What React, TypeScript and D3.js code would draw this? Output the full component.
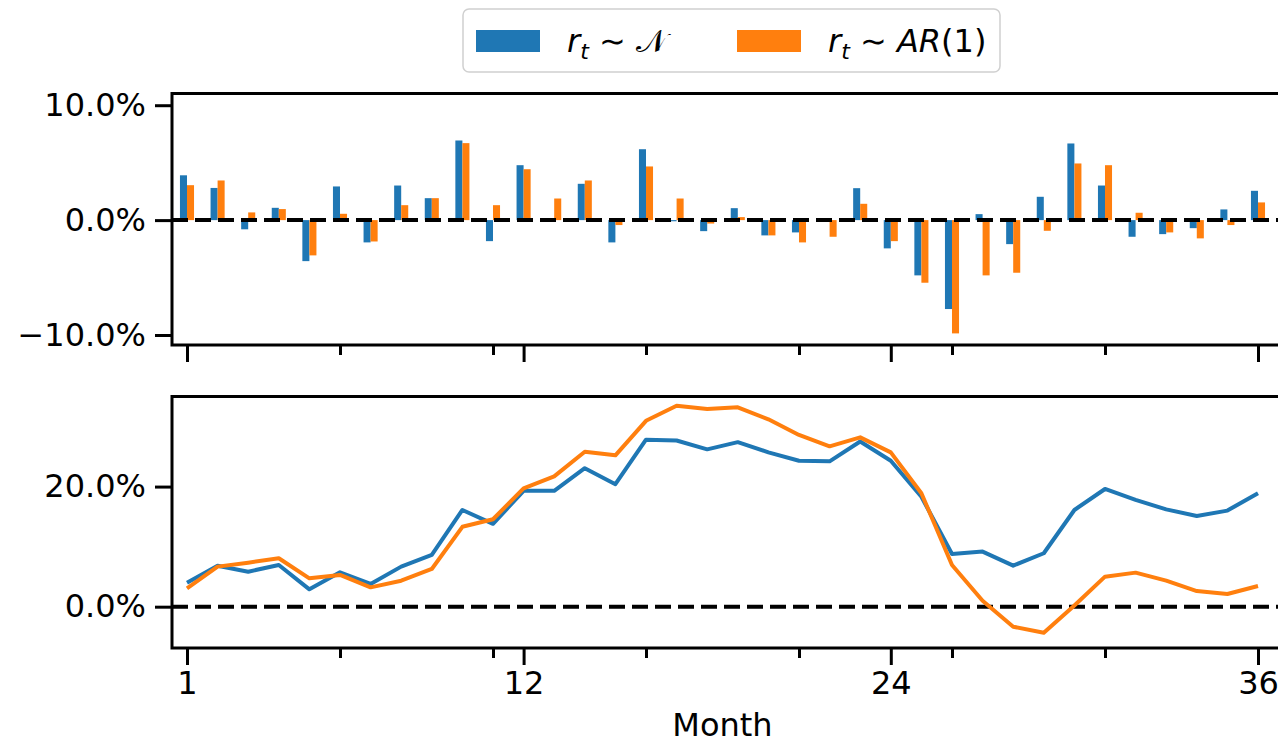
import { useEffect, useRef } from "react";
import * as d3 from "d3";

const BLUE = "#1f77b4";
const ORANGE = "#ff7f0e";
const FONT = "DejaVu Sans, sans-serif";

// months on the x axis
const MONTHS = d3.range(1, 37);
const MAJOR_TICKS = [1, 12, 24, 36];
const MINOR_TICKS = [6, 11, 16, 21, 26, 31];

// monthly returns (%) – top panel
const RET_NORMAL = [
    3.9, 2.8, -0.8, 1.07, -3.57, 2.93, -1.94, 3.01, 1.91, 6.93, -1.83, 4.78,
    0.1, 3.16, -1.94, 6.17, -0.1, -0.96, 1.04, -1.33, -1.07, -0.1, 2.78, -2.46,
    -4.81, -7.74, 0.52, -2.09, 2.03, 6.67, 3.01, -1.45, -1.22, -0.7, 0.93, 2.55,
];
const RET_AR = [
    3.04, 3.45, 0.67, 0.96, -3.07, 0.55, -1.86, 1.3, 1.91, 6.7, 1.3, 4.43,
    1.88, 3.45, -0.43, 4.67, 1.88, -0.3, 0.26, -1.33, -1.94, -1.45, 1.42, -1.83,
    -5.45, -9.86, -4.81, -4.58, -0.93, 4.93, 4.78, 0.64, -1.07, -1.59, -0.43, 1.54,
];

// cumulative returns (%) – bottom panel
const CUM_NORMAL = [
    4.0, 6.83, 5.83, 6.94, 2.89, 5.72, 3.78, 6.67, 8.61, 16.1, 13.8, 19.3,
    19.3, 23.06, 20.4, 27.8, 27.67, 26.2, 27.4, 25.7, 24.3, 24.2, 27.5, 24.3,
    18.3, 8.78, 9.17, 6.83, 8.9, 16.1, 19.6, 17.8, 16.2, 15.1, 16.0, 18.9,
];
const CUM_AR = [
    3.06, 6.67, 7.33, 8.06, 4.72, 5.28, 3.22, 4.33, 6.28, 13.3, 14.56, 19.7,
    21.7, 25.8, 25.2, 30.95, 33.45, 32.9, 33.2, 31.2, 28.6, 26.7, 28.2, 25.7,
    18.9, 6.94, 1.0, -3.33, -4.33, 0.2, 5.0, 5.67, 4.33, 2.6, 2.11, 3.44,
];

const TOP_TICKS = [-10, 0, 10];
const BOTTOM_TICKS = [0, 20];

const W = 1278;
const H = 745;

export default function App() {
    const svgRef = useRef<SVGSVGElement | null>(null);

    useEffect(() => {
        if (!svgRef.current) return;
        const svg = d3.select(svgRef.current);
        svg.selectAll("*").remove();

        const left = 172;
        const right = 1290; // right spine falls outside the picture
        const top1 = 93.5, bot1 = 345;
        const top2 = 396.5, bot2 = 648;

        const x = d3.scaleLinear().domain([0.51, 0.51 + (right - left) / 30.6]).range([left, right]);
        const y1 = d3.scaleLinear().domain([-10.87, 11.02]).range([bot1, top1]);
        const y2 = d3.scaleLinear().domain([-6.88, 35]).range([bot2, top2]);

        const fmt = (d: number) => `${d.toFixed(1)}%`.replace("-", "\u2212");
        const barW = 0.23;

        const styleAxis = (g: any) => {
            g.select(".domain").remove();
            g.selectAll("line").attr("stroke", "#000").attr("stroke-width", 3);
            g.selectAll("text").attr("fill", "#000").style("font-family", FONT).style("font-size", "32px");
        };

        // ---- top panel: bars
        const p1 = svg.append("g");
        p1.selectAll(".bn")
            .data(MONTHS)
            .join("rect")
            .attr("x", (m) => x(m - barW))
            .attr("width", x(barW) - x(0))
            .attr("y", (m, i) => y1(Math.max(0, RET_NORMAL[i])))
            .attr("height", (m, i) => Math.abs(y1(RET_NORMAL[i]) - y1(0)))
            .attr("fill", BLUE);
        p1.selectAll(".ba")
            .data(MONTHS)
            .join("rect")
            .attr("x", (m) => x(m))
            .attr("width", x(barW) - x(0))
            .attr("y", (m, i) => y1(Math.max(0, RET_AR[i])))
            .attr("height", (m, i) => Math.abs(y1(RET_AR[i]) - y1(0)))
            .attr("fill", ORANGE);
        p1.append("line")
            .attr("x1", left).attr("x2", right)
            .attr("y1", y1(0)).attr("y2", y1(0))
            .attr("stroke", "#000").attr("stroke-width", 4)
            .attr("stroke-dasharray", "16,7");

        // ---- bottom panel: cumulative lines
        const p2 = svg.append("g");
        const line = (vals: number[]) =>
            d3.line<number>()
                .x((m) => x(m))
                .y((m, i) => y2(vals[i]))(MONTHS);
        p2.append("line")
            .attr("x1", left).attr("x2", right)
            .attr("y1", y2(0)).attr("y2", y2(0))
            .attr("stroke", "#000").attr("stroke-width", 4)
            .attr("stroke-dasharray", "16,7");
        p2.append("path").attr("d", line(CUM_NORMAL)).attr("fill", "none")
            .attr("stroke", BLUE).attr("stroke-width", 4).attr("stroke-linejoin", "round");
        p2.append("path").attr("d", line(CUM_AR)).attr("fill", "none")
            .attr("stroke", ORANGE).attr("stroke-width", 4).attr("stroke-linejoin", "round");

        // ---- axes
        for (const [yScale, ticks, top, bot, labels] of [
            [y1, TOP_TICKS, top1, bot1, false],
            [y2, BOTTOM_TICKS, top2, bot2, true],
        ] as const) {
            svg.append("g")
                .attr("transform", `translate(${left},0)`)
                .call(d3.axisLeft(yScale as any).tickValues(ticks as any).tickSize(17).tickPadding(9).tickFormat(fmt as any))
                .call(styleAxis);

            svg.append("g")
                .attr("transform", `translate(0,${bot})`)
                .call(d3.axisBottom(x).tickValues(MAJOR_TICKS).tickSize(17).tickPadding(6)
                    .tickFormat((d) => (labels ? String(d) : "")))
                .call(styleAxis);
            svg.append("g")
                .attr("transform", `translate(0,${bot})`)
                .call(d3.axisBottom(x).tickValues(MINOR_TICKS).tickSize(10).tickFormat(() => ""))
                .call(styleAxis);

            svg.append("rect")
                .attr("x", left).attr("y", top)
                .attr("width", right - left).attr("height", bot - top)
                .attr("fill", "none").attr("stroke", "#000").attr("stroke-width", 3);
        }

        svg.append("text")
            .attr("x", x(18.5)).attr("y", 736)
            .attr("text-anchor", "middle")
            .style("font-family", FONT).style("font-size", "32px")
            .text("Month");

        // ---- legend
        const lg = svg.append("g");
        lg.append("rect")
            .attr("x", 463).attr("y", 9).attr("width", 537).attr("height", 63)
            .attr("rx", 6).attr("fill", "#fff").attr("fill-opacity", 0.8)
            .attr("stroke", "#d0d0d0").attr("stroke-width", 1.5);
        const items = [
            { color: BLUE, px: 476, tx: 567, rhs: "\u{1D4A9}", italic: false },
            { color: ORANGE, px: 737, tx: 828, rhs: "AR(1)", italic: true },
        ];
        items.forEach((it) => {
            lg.append("rect").attr("x", it.px).attr("y", 30).attr("width", 64).attr("height", 22).attr("fill", it.color);
            const t = lg.append("text")
                .attr("x", it.tx).attr("y", 52)
                .style("font-family", FONT).style("font-size", "32px");
            t.append("tspan").style("font-style", "italic").text("r");
            t.append("tspan").style("font-style", "italic").style("font-size", "22px").attr("dy", 7).text("t");
            t.append("tspan").attr("dy", -7).text(" \u223C ");
            if (it.italic) {
                t.append("tspan").style("font-style", "italic").text("AR");
                t.append("tspan").text("(1)");
            } else {
                t.append("tspan").text(it.rhs);
            }
        });
    }, []);

    return (
        <svg
            ref={svgRef}
            width={W}
            height={H}
            style={{ position: "absolute", left: 0, top: 0, background: "#fff" }}
        />
    );
}
